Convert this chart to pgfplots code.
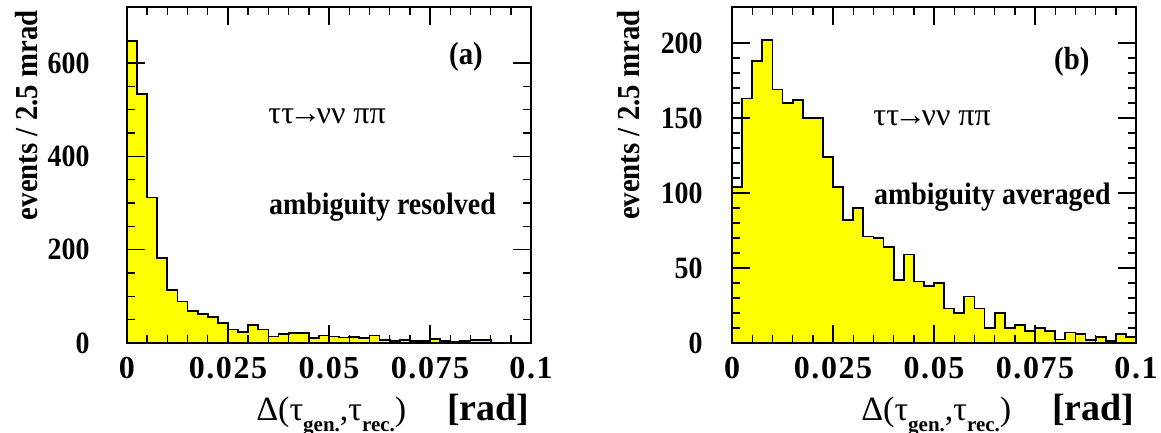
\documentclass[border=0pt]{standalone}
\usepackage{fontspec}
\setmainfont{Liberation Serif}
\newfontfamily\narrow[FakeStretch=0.9]{Liberation Serif}
\newfontfamily\wide[LetterSpace=5]{Liberation Serif}
\usepackage{pgfplots}
\pgfplotsset{compat=1.18}
\usepackage{pgfplotstable}
\definecolor{histyellow}{RGB}{255,255,0}

% 40 bins of 2.5 mrad, left edge + content; last row closes the step
\pgfplotstableread{
x y
0      648
0.0025 534
0.005  312
0.0075 182
0.01   114
0.0125 89
0.015  69
0.0175 62
0.02   56
0.0225 43
0.025  29
0.0275 24
0.03   38
0.0325 29
0.035  14
0.0375 19
0.04   21
0.0425 21
0.045  11
0.0475 16
0.05   14
0.0525 12
0.055  13
0.0575 10
0.06   16
0.0625 6
0.065  5
0.0675 7
0.07   5
0.0725 5
0.075  8
0.0775 5
0.08   2
0.0825 5
0.085  7
0.0875 6
0.09   1
0.0925 0
0.095  0
0.0975 0
0.1    0
}\resolved

\pgfplotstableread{
x y
0      104
0.0025 163
0.005  188
0.0075 202
0.01   169
0.0125 160
0.015  162
0.0175 150
0.02   150
0.0225 124
0.025  104
0.0275 82
0.03   90
0.0325 71
0.035  70
0.0375 64
0.04   42
0.0425 59
0.045  41
0.0475 38
0.05   40
0.0525 23
0.055  20
0.0575 31
0.06   23
0.0625 10
0.065  20
0.0675 10
0.07   12
0.0725 8
0.075  10
0.0775 8
0.08   2.4
0.0825 7
0.085  6
0.0875 2
0.09   4
0.0925 1.3
0.095  6
0.0975 4
0.1    4
}\averaged

\newcommand\sub[1]{\raisebox{-0.33em}{\fontsize{10.5}{10.5}\selectfont\bfseries #1}}
\newcommand\decay{ττ\kern-0.15em→\kern-0.15emνν ππ}

\tikzset{
  note/.style={anchor=west, inner sep=0pt, font=\fontsize{16}{16}\selectfont},
  bnote/.style={anchor=west, inner sep=0pt, font=\narrow\bfseries\fontsize{15.5}{15.5}\selectfont},
}

\pgfplotsset{
  histo/.style={
    scale only axis, width=202pt, height=168pt,
    xmin=0, xmax=0.1, ymin=0,
    axis on top,
    axis line style={line width=1pt},
    tick align=inside, xtick pos=both, ytick pos=both,
    major tick length=9pt, minor tick length=4pt,
    every tick/.append style={black, line width=0.7pt},
    xtick={0,0.025,0.05,0.075,0.1},
    xticklabels={0,0.025,0.05,0.075,0.1},
    minor x tick num=4,
    xticklabel style={anchor=north, inner sep=0pt, yshift=-7pt,
      font=\wide\bfseries\fontsize{16}{16}\selectfont},
    yticklabel style={anchor=east, inner sep=0pt,
      font=\narrow\bfseries\fontsize{15.5}{15.5}\selectfont},
    xlabel={Δ(τ\sub{gen.},τ\sub{rec.})\hspace{1.2em}{\bfseries\fontsize{19}{19}\selectfont [rad]}},
    xlabel style={at={(axis description cs:0.997,0)}, anchor=base east,
      inner sep=0pt, yshift=-38.5pt, font=\fontsize{17}{17}\selectfont},
    ylabel={events / 2.5 mrad},
    ylabel style={anchor=east, inner sep=0pt,
      font=\narrow\bfseries\fontsize{16}{16}\selectfont},
  },
}

\begin{document}
\begin{tikzpicture}
\path[use as bounding box] (-63.5pt,-45pt) rectangle (517pt,171.5pt);

\begin{axis}[histo, ymax=720, ytick={0,200,400,600},
  yticklabels={0,200,400,600}, minor y tick num=3,
  yticklabel style={xshift=-18.5pt},
  ylabel style={at={(axis description cs:-0.2475,0.991)}}]
\addplot[const plot mark left, fill=histyellow, draw=black, line width=0.9pt]
  table[x=x, y=y] {\resolved} \closedcycle;
\node[bnote, anchor=center, font=\narrow\bfseries\fontsize{16}{16}\selectfont]
  at (axis description cs:0.839,0.851) {(a)};
\node[note] at (axis description cs:0.349,0.676) {\decay};
\node[bnote] at (axis description cs:0.351,0.405) {ambiguity resolved};
\end{axis}

\begin{axis}[histo, at={(302.5pt,0)}, ymax=224, ytick={0,50,100,150,200},
  yticklabels={0,50,100,150,200}, minor y tick num=4,
  yticklabel style={xshift=-14.5pt},
  ylabel style={at={(axis description cs:-0.257,0.991)}}]
\addplot[const plot mark left, fill=histyellow, draw=black, line width=0.9pt]
  table[x=x, y=y] {\averaged} \closedcycle;
\node[bnote, anchor=center, font=\narrow\bfseries\fontsize{16}{16}\selectfont]
  at (axis description cs:0.841,0.836) {(b)};
\node[note] at (axis description cs:0.349,0.670) {\decay};
\node[bnote] at (axis description cs:0.351,0.435) {ambiguity averaged};
\end{axis}
\end{tikzpicture}
\end{document}
